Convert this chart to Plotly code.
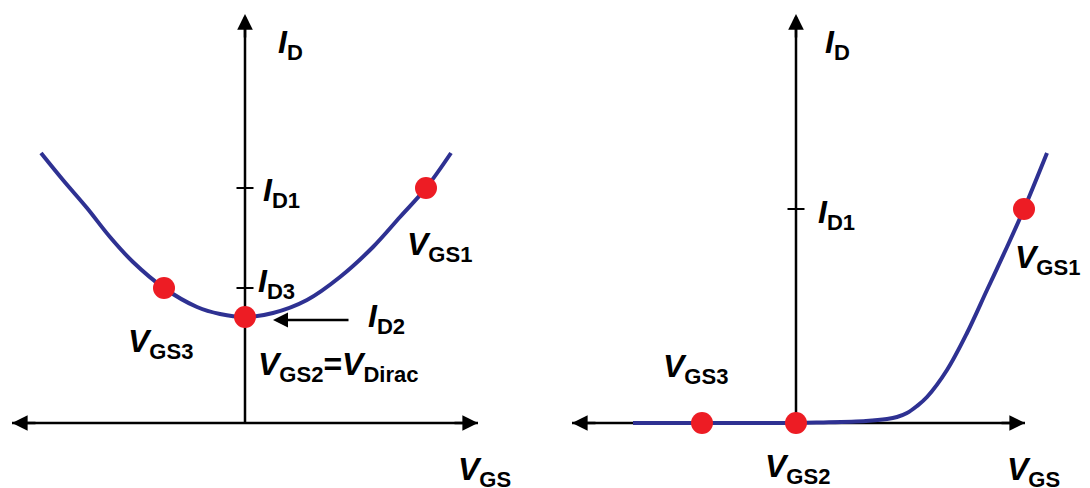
import plotly.graph_objects as go

# Transfer curves I_D(V_GS), arbitrary units.
# Left: ambipolar graphene FET; right: conventional unipolar FET.
left_vgs = [-20.4, -18.2, -15.8, -13.5, -11.2, -8.1, -4.8, -2.5, 0.0,
            2.8, 6.2, 9.5, 12.8, 15.5, 18.1, 20.6]
left_id = [27.0, 24.3, 21.5, 18.6, 16.1, 13.5, 11.6, 10.9, 10.6,
           11.0, 12.3, 14.6, 17.6, 20.6, 23.5, 27.0]
left_bias_vgs = [-8.1, 0.0, 18.1]
left_bias_id = [13.5, 10.6, 23.5]
left_tick_id = [23.5, 13.5]

right_vgs = [-16.3, -9.4, 0.0, 2.4, 7.0, 9.1, 10.1, 11.1, 12.1, 13.1, 15.1,
             17.1, 19.1, 21.1, 22.8, 25.1]
right_id = [0.0, 0.0, 0.0, 0.05, 0.2, 0.4, 0.6, 1.0, 1.7, 2.6, 5.3,
            9.0, 13.3, 17.6, 21.4, 27.0]
right_bias_vgs = [-9.4, 0.0, 22.8]
right_bias_id = [0.0, 0.0, 21.4]
right_tick_id = [21.4]

# axis extents: (left end, right end, top) per panel
left_axis = (-23.3, 23.3, 40.9)
right_axis = (-22.4, 22.9, 40.9)

CURVE = "#2E3192"
DOT = "#ED1C24"
INK = "black"
FONT = "Liberation Sans, Arial, sans-serif"


def lab(main, sub):
    return (f"<b><i>{main}</i></b>"
            f"<sub><span style='font-size:22px'><b>{sub}</b></span></sub>")


fig = go.Figure()
annotations = []

panels = [
    ("x", "y", left_axis, left_vgs, left_id, left_bias_vgs, left_bias_id, left_tick_id),
    ("x2", "y2", right_axis, right_vgs, right_id, right_bias_vgs, right_bias_id, right_tick_id),
]

for xr, yr, (x0, x1, ytop), cx, cy, bx, by, ticks in panels:
    # axis lines
    fig.add_trace(go.Scatter(x=[x0, x1], y=[0, 0], xaxis=xr, yaxis=yr, mode="lines",
                             line=dict(color=INK, width=2.5), hoverinfo="skip"))
    fig.add_trace(go.Scatter(x=[0, 0], y=[0, ytop - 0.3], xaxis=xr, yaxis=yr, mode="lines",
                             line=dict(color=INK, width=2.5), hoverinfo="skip"))
    for t in ticks:
        fig.add_trace(go.Scatter(x=[-0.85, 0.85], y=[t, t], xaxis=xr, yaxis=yr, mode="lines",
                                 line=dict(color=INK, width=2), hoverinfo="skip"))
    # characteristic curve
    fig.add_trace(go.Scatter(x=cx, y=cy, xaxis=xr, yaxis=yr, mode="lines",
                             line=dict(color=CURVE, width=4, shape="spline"),
                             hoverinfo="skip"))
    # bias points
    fig.add_trace(go.Scatter(x=bx, y=by, xaxis=xr, yaxis=yr, mode="markers",
                             marker=dict(color=DOT, size=22), hoverinfo="skip"))
    # arrowheads at axis ends
    for (tx, ty, sx, sy) in [(x1, 0, x1 - 2.5, 0), (x0, 0, x0 + 2.5, 0), (0, ytop, 0, ytop - 2.5)]:
        annotations.append(dict(x=tx, y=ty, ax=sx, ay=sy, xref=xr, yref=yr,
                                axref=xr, ayref=yr, text="", showarrow=True,
                                arrowhead=2, arrowsize=1.25, arrowwidth=2.5,
                                arrowcolor=INK))

# pointer to the minimum current
annotations.append(dict(x=2.8, y=10.3, ax=10.5, ay=10.3, xref="x", yref="y",
                        axref="x", ayref="y", text="", showarrow=True,
                        arrowhead=2, arrowsize=1.2, arrowwidth=2.5, arrowcolor=INK))

labels = [
    ("x", "y", 3.1, 37.9, lab("I", "D")),
    ("x", "y", 1.6, 23.1, lab("I", "D1")),
    ("x", "y", 1.1, 14.0, lab("I", "D3")),
    ("x", "y", 12.1, 10.5, lab("I", "D2")),
    ("x", "y", 16.0, 17.7, lab("V", "GS1")),
    ("x", "y", -11.9, 8.0, lab("V", "GS3")),
    ("x", "y", 1.1, 5.7, lab("V", "GS2") + "<b>=</b>" + lab("V", "Dirac")),
    ("x", "y", 21.1, -4.8, lab("V", "GS")),
    ("x2", "y2", 2.7, 37.9, lab("I", "D")),
    ("x2", "y2", 2.0, 20.9, lab("I", "D1")),
    ("x2", "y2", 21.7, 16.4, lab("V", "GS1")),
    ("x2", "y2", -13.5, 5.5, lab("V", "GS3")),
    ("x2", "y2", -3.3, -4.5, lab("V", "GS2")),
    ("x2", "y2", 20.9, -4.8, lab("V", "GS")),
]
for xr, yr, x, y, txt in labels:
    annotations.append(dict(x=x, y=y, xref=xr, yref=yr, text=txt, showarrow=False,
                            xanchor="left", yanchor="middle",
                            font=dict(family=FONT, size=32, color=INK)))

hidden = dict(visible=False, fixedrange=True)
fig.update_layout(
    width=1090, height=488,
    margin=dict(l=0, r=0, t=0, b=0),
    paper_bgcolor="white", plot_bgcolor="white",
    showlegend=False,
    xaxis=dict(domain=[0, 0.5], range=[-24.5, 30.0], **hidden),
    xaxis2=dict(domain=[0.5, 1], range=[-25.1, 29.4], **hidden),
    yaxis=dict(domain=[0, 1], range=[-6.5, 42.3], **hidden),
    yaxis2=dict(domain=[0, 1], range=[-6.5, 42.3], anchor="x2", **hidden),
    annotations=annotations,
)
for tr in fig.data:
    tr.cliponaxis = False

fig.write_html("out.html")
